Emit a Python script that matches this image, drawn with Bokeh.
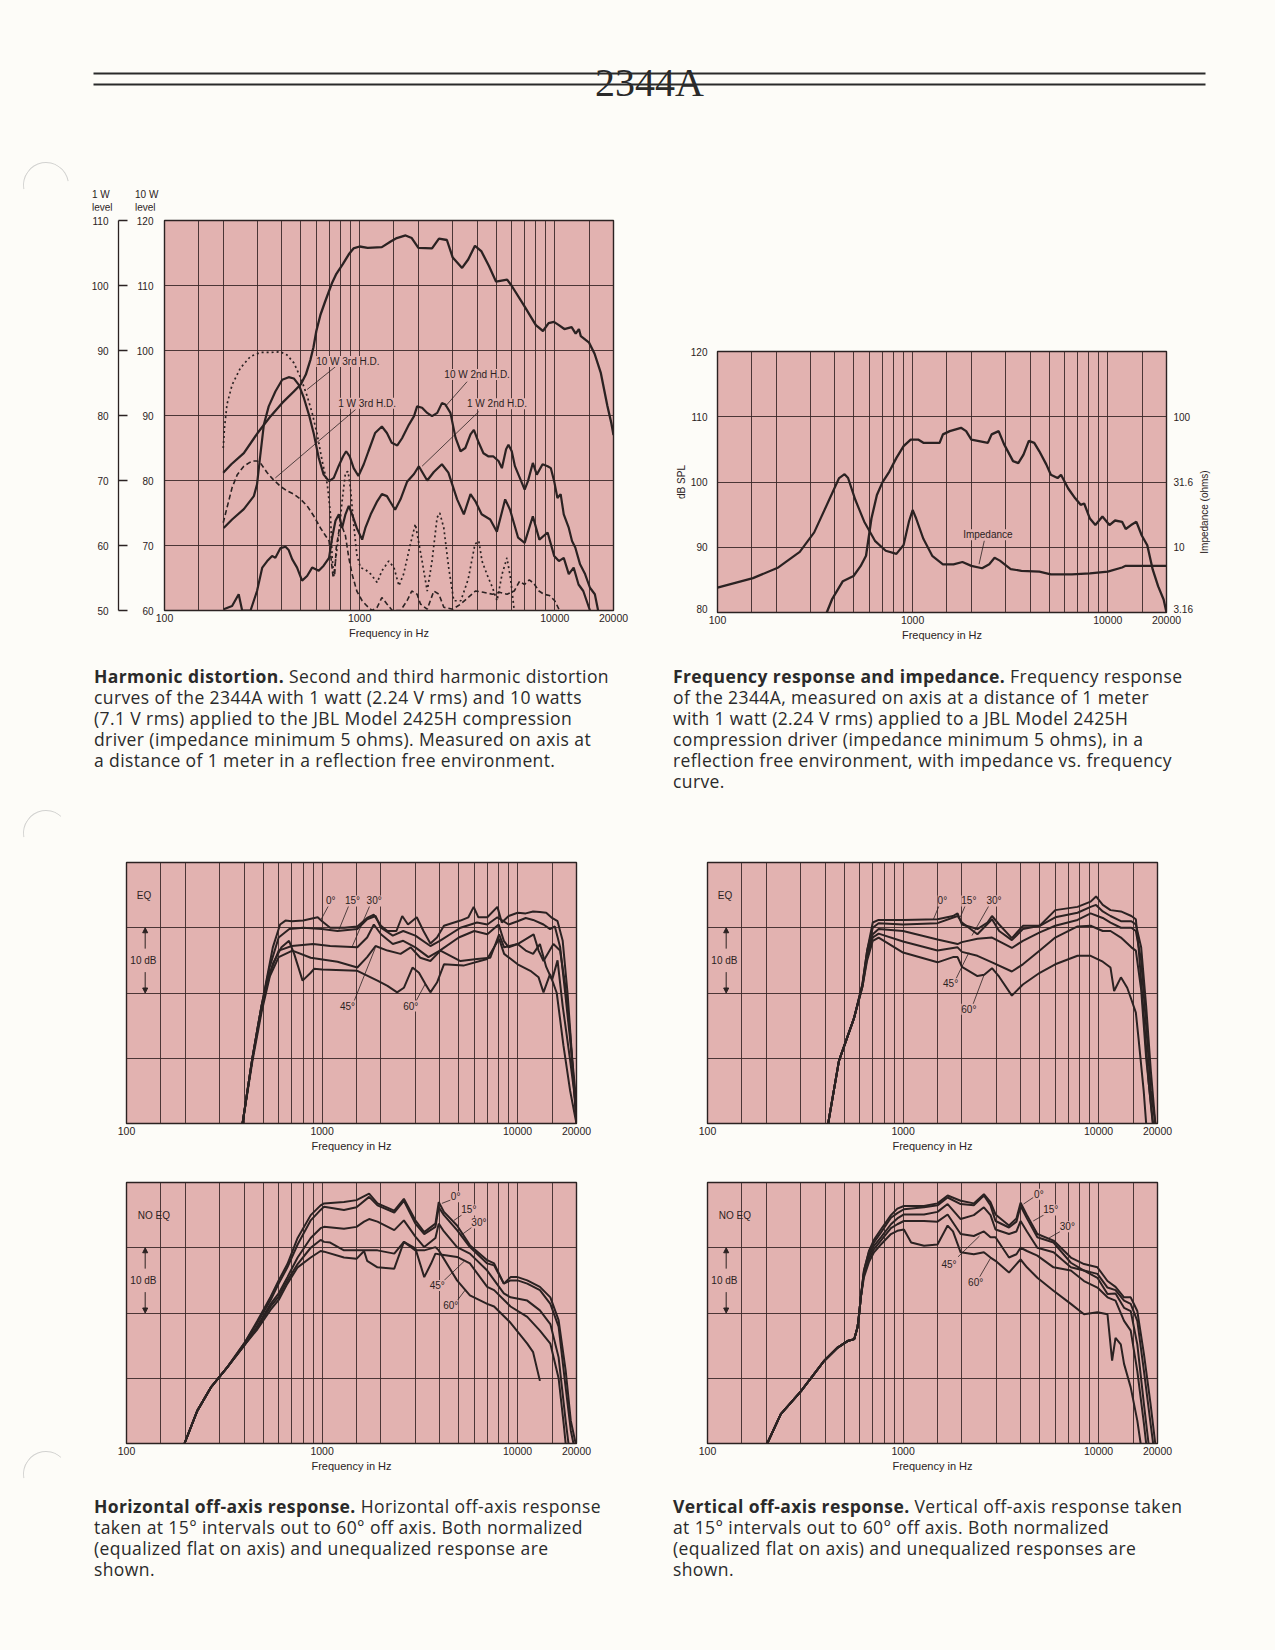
import math
from bokeh.plotting import figure
from bokeh.models import (Range1d, FixedTicker, LinearAxis, Label, Arrow, NormalHead,
                          Div, Spacer, LogScale)
from bokeh.layouts import column, row
from bokeh.embed import file_html
from bokeh.resources import INLINE
from bokeh.core.properties import value

PAGE = "#fdfcf8"
PINK = "#e2b2b0"
INK = "#2b2222"
GRIDC = "#3a2828"
FONT = "Liberation Sans"
HOLE = "#d2d2d0"

# ---------------- axis values ----------------
X_LABEL_TICKS = [100, 1000, 10000, 20000]
X_GRID_TICKS = [150, 200, 300, 400, 500, 600, 700, 800, 900, 1000, 1500, 2000,
                3000, 4000, 5000, 6000, 7000, 8000, 9000, 10000, 15000]
HD_1W_TICKS = [50, 60, 70, 80, 90, 100, 110]
HD_10W_LABELS = ["60", "70", "80", "90", "100", "110", "120"]
SPL_TICK_POS = [80.6, 90, 100, 110, 120]
SPL_LABELS = ["80", "90", "100", "110", "120"]
IMP_TICK_POS = [80.6, 90, 100, 110]
IMP_LABELS = ["3.16", "10", "31.6", "100"]

# ---------------- Harmonic distortion (1 W level dB) ----------------
HD_FUND = [(200, 71.2), (220, 72.5), (255, 74.2), (300, 77.3), (350, 79.9), (400, 81.9),
           (460, 83.7), (500, 84.8), (530, 86.3), (560, 88.6), (580, 90.5), (600, 93.0),
           (630, 95.5), (665, 97.5), (720, 100.3), (760, 101.8), (820, 103.3), (880, 104.8),
           (930, 105.7), (1000, 106.0), (1100, 105.8), (1300, 105.9), (1450, 106.8),
           (1550, 107.3), (1720, 107.7), (1850, 107.3), (2000, 105.8), (2350, 105.7),
           (2550, 107.2), (2800, 107.0), (3000, 104.3), (3350, 102.7), (3600, 104.0),
           (3900, 106.1), (4200, 105.3), (4600, 103.0), (5000, 100.6), (5700, 100.9),
           (6000, 100.0), (7000, 96.8), (8000, 93.9), (8700, 93.0), (9300, 94.2),
           (9900, 94.4), (10500, 93.9), (11200, 93.3), (12200, 93.6), (12800, 92.6),
           (13300, 93.3), (13600, 92.2), (15000, 91.2), (16000, 89.5), (17200, 86.6),
           (18600, 81.5), (19500, 78.8), (20000, 77.0)]
HD2_10W = [(201, 62.7), (222, 64.0), (255, 65.6), (287, 67.6), (298, 69.4), (310, 74.0),
           (323, 78.6), (342, 81.4), (370, 83.7), (401, 85.5), (433, 85.9), (460, 85.7),
           (488, 84.7), (518, 82.7), (550, 80.1), (583, 77.1), (617, 73.5), (654, 70.9),
           (697, 69.9), (737, 70.4), (780, 72.2), (822, 73.7), (853, 74.5), (889, 73.7),
           (932, 71.9), (986, 70.7), (1050, 72.5), (1110, 74.5), (1200, 77.3), (1300, 78.3),
           (1380, 77.3), (1460, 75.8), (1560, 75.4), (1650, 76.5), (1790, 78.6), (1900, 79.9),
           (1970, 81.4), (2090, 81.2), (2220, 80.4), (2350, 79.9), (2500, 80.4), (2640, 81.9),
           (2750, 81.7), (2920, 80.4), (3100, 76.6), (3290, 74.5), (3480, 75.0), (3700, 77.1),
           (3850, 77.8), (4080, 75.8), (4310, 74.2), (4580, 73.7), (4850, 73.7), (5150, 73.0),
           (5360, 71.9), (5630, 74.8), (5790, 75.5), (6020, 74.5), (6250, 72.2), (6620, 70.4),
           (7010, 68.6), (7290, 69.9), (7720, 72.7), (8090, 70.9), (8660, 72.5), (9190, 72.2),
           (9550, 71.9), (9930, 69.9), (10320, 67.3), (10720, 67.9), (11120, 64.8),
           (11800, 62.7), (12260, 60.7), (12740, 59.7), (13480, 57.1), (14300, 55.6),
           (15150, 53.5), (16050, 52.5), (16680, 50.0)]
HD2_1W = [(201, 50.2), (222, 50.7), (240, 52.5), (250, 50.0), (276, 50.0), (298, 53.0),
          (317, 56.6), (336, 57.6), (356, 58.4), (370, 58.1), (393, 59.6), (417, 59.8),
          (433, 59.3), (451, 57.9), (478, 56.6), (507, 54.6), (538, 55.3), (571, 56.6),
          (617, 56.1), (654, 56.9), (697, 58.1), (723, 61.2), (752, 63.8), (783, 64.8),
          (813, 62.7), (846, 64.8), (880, 66.1), (915, 64.8), (967, 62.7), (1030, 60.9),
          (1070, 62.7), (1140, 64.8), (1230, 66.8), (1300, 67.9), (1380, 67.6), (1430, 66.8),
          (1520, 65.5), (1620, 67.1), (1750, 69.8), (1900, 71.0), (2010, 72.2), (2220, 70.0),
          (2400, 71.3), (2640, 72.5), (2850, 71.2), (3160, 67.1), (3420, 64.8), (3700, 67.9),
          (3920, 66.8), (4220, 64.8), (4670, 64.0), (5050, 62.1), (5570, 67.1), (5900, 65.5),
          (6490, 61.2), (7010, 60.4), (7720, 64.5), (8340, 60.9), (9190, 62.0), (9930, 58.4),
          (10500, 57.6), (11120, 58.1), (11800, 55.6), (12500, 56.6), (13240, 54.0),
          (14000, 53.0), (15150, 50.0)]
HD3_10W = [(200, 75.0), (203, 78.1), (209, 81.7), (222, 84.7), (245, 87.3), (276, 89.1),
           (310, 89.7), (349, 89.7), (393, 89.8), (425, 89.3), (460, 88.1), (499, 85.8),
           (538, 83.0), (571, 80.4), (606, 77.1), (643, 73.0), (683, 69.4), (709, 64.8),
           (723, 58.1), (737, 55.3), (752, 57.6), (783, 61.7), (813, 66.8), (846, 71.2),
           (872, 71.4), (897, 68.9), (932, 63.3), (967, 58.6), (1010, 56.6), (1070, 56.3),
           (1140, 55.6), (1230, 54.3), (1300, 56.1), (1410, 57.6), (1500, 56.6), (1590, 53.8),
           (1680, 55.6), (1820, 60.2), (1930, 63.3), (2090, 57.6), (2220, 53.0), (2350, 57.6),
           (2495, 64.3), (2575, 65.0), (2700, 62.7), (2860, 56.6), (3037, 51.5), (3300, 51.5),
           (3600, 54.8), (3900, 60.2), (4080, 60.7), (4240, 57.6), (4500, 55.5), (4800, 53.5),
           (5060, 51.5), (5370, 55.6), (5690, 58.1), (5930, 55.0), (6200, 50.0)]
HD3_1W = [(200, 63.5), (209, 65.8), (222, 68.9), (236, 70.9), (255, 72.2), (281, 73.0),
          (298, 73.0), (310, 72.7), (336, 71.2), (362, 70.1), (393, 69.1), (425, 68.4),
          (460, 67.9), (499, 67.1), (538, 66.1), (583, 64.5), (630, 62.7), (669, 61.5),
          (697, 60.7), (716, 57.6), (730, 55.3), (744, 55.3), (759, 59.7), (786, 62.5),
          (818, 62.7), (846, 61.5), (880, 58.1), (915, 55.6), (967, 53.0), (1030, 51.5),
          (1090, 50.7), (1160, 50.0), (1230, 50.5), (1300, 52.0), (1380, 51.0), (1470, 50.0),
          (1620, 50.0), (1750, 51.5), (1850, 53.0), (1970, 52.5), (2050, 51.0), (2220, 50.2),
          (2400, 53.0), (2550, 52.5), (2700, 50.5), (3000, 50.2), (3300, 51.0), (3600, 52.0),
          (3920, 53.0), (4300, 52.8), (4800, 52.5), (5200, 52.8), (5700, 52.5), (6200, 53.0),
          (6600, 54.5), (7000, 54.0), (7400, 54.7), (7800, 54.2), (8300, 53.0), (8800, 52.5),
          (9400, 52.3), (10000, 51.5), (10500, 50.2)]

# ---------------- Frequency response (dB SPL) and impedance (ohms) ----------------
FR_SPL = [(363, 80.0), (386, 82.0), (439, 84.8), (498, 85.6), (541, 87.1), (577, 88.7),
          (615, 94.4), (656, 98.0), (699, 99.9), (760, 101.6), (826, 103.7), (899, 105.5),
          (977, 106.5), (1067, 106.5), (1135, 106.0), (1375, 106.0), (1430, 107.3),
          (1550, 107.8), (1770, 108.3), (1880, 107.8), (2000, 106.5), (2430, 106.0),
          (2540, 107.3), (2760, 107.8), (2940, 105.8), (3270, 103.2), (3480, 102.9),
          (3700, 104.2), (3940, 106.3), (4200, 106.0), (4460, 104.7), (4840, 102.7),
          (5110, 101.1), (5530, 100.6), (5760, 101.1), (6270, 99.0), (6810, 97.5),
          (7260, 96.5), (7570, 96.7), (8100, 94.4), (8640, 93.4), (9390, 94.7), (10200, 93.4),
          (10900, 94.1), (11840, 93.9), (12360, 92.8), (13160, 93.4), (14020, 93.9),
          (14940, 91.8), (15940, 90.3), (16990, 86.6), (18130, 84.0), (19330, 82.0),
          (20000, 80.0)]
FR_IMP = [(100, 4.9), (152, 5.8), (205, 7.0), (264, 9.2), (313, 13.0), (370, 22.4),
          (420, 33.9), (448, 36.3), (467, 33.9), (509, 23.0), (565, 15.7), (641, 11.2),
          (728, 9.4), (826, 8.9), (899, 10.4), (957, 15.7), (1000, 19.3), (1043, 16.6),
          (1135, 11.6), (1260, 8.6), (1430, 7.4), (1620, 7.4), (1800, 7.7), (2000, 7.2),
          (2270, 6.9), (2470, 7.4), (2630, 8.3), (2800, 7.9), (3180, 6.8), (3610, 6.6),
          (4460, 6.5), (5110, 6.2), (6550, 6.2), (8100, 6.3), (10000, 6.5), (11840, 7.0),
          (12360, 7.2), (20000, 7.2)]

# ---------------- Off-axis responses (relative dB, 10 dB per division) ----------------
H_EQ = {
    "0": [(392, 0), (430, 8), (470, 15), (520, 22), (560, 27), (610, 30.5), (650, 31.1),
          (700, 31.0), (800, 31.1), (950, 31.6), (1000, 31.0), (1100, 30.0), (1300, 30.0),
          (1515, 30.2), (1700, 31.5), (1840, 32.0), (2000, 30.3), (2160, 29.5), (2400, 29.5),
          (2570, 31.8), (2750, 30.5), (3050, 31.6), (3300, 29.5), (3580, 27.6), (3870, 28.5),
          (4200, 30.3), (5100, 31.1), (5600, 31.6), (5960, 33.2), (6300, 31.6), (7000, 31.6),
          (7880, 33.2), (8300, 30.8), (9000, 31.8), (10000, 32.3), (11000, 32.2), (12000, 32.5),
          (13000, 32.4), (14000, 32.3), (15000, 31.5), (16000, 31), (17000, 28), (18000, 20),
          (19000, 10), (20000, 0)],
    "15": [(392, 0), (440, 10), (490, 18), (540, 24), (600, 28.5), (680, 29.8), (800, 30.0),
           (1000, 29.8), (1200, 29.5), (1515, 29.8), (1700, 31.3), (1877, 31.8), (2000, 30),
           (2300, 28.8), (2600, 29.5), (3000, 28.8), (3580, 27.2), (4000, 28), (5100, 30),
           (6200, 30.8), (7000, 30.5), (7880, 31.6), (9000, 30.5), (10000, 31), (11000, 31.5),
           (12000, 31.2), (13560, 30.5), (14650, 29.8), (15500, 30.2), (16500, 27),
           (17500, 20), (19000, 10), (20000, 3)],
    "30": [(392, 0), (440, 10), (490, 17.5), (540, 23), (600, 26.5), (700, 27.2), (900, 27.5),
           (1100, 27.2), (1515, 27.0), (1700, 28.5), (1840, 30.5), (2000, 29), (2300, 27.5),
           (2600, 28), (3000, 27), (3500, 25.5), (4000, 26.5), (5000, 28.5), (6000, 29.5),
           (7000, 29), (8000, 30.5), (8500, 28), (9000, 27), (10000, 27.5), (11000, 26.5),
           (12000, 26), (13000, 27.5), (14000, 24), (15000, 22), (16000, 25), (17000, 18),
           (18500, 10), (20000, 2)],
    "45": [(392, 0), (440, 9.5), (490, 17), (540, 22.5), (600, 25.5), (705, 26.5),
           (875, 25.4), (1200, 24.8), (1515, 23.9), (1700, 25.5), (1877, 27.2), (2160, 26.5),
           (2520, 26.0), (2840, 27.0), (3180, 25.4), (3580, 24.9), (4030, 26.5), (5100, 24.9),
           (6200, 25.2), (7250, 25.4), (8040, 29.0), (8530, 27.0), (10000, 27.5),
           (12070, 29.0), (12800, 26.5), (13560, 24.9), (15240, 27.5), (16480, 26.5),
           (17480, 21.4), (18560, 13.7), (20000, 0)],
    "60": [(392, 0), (440, 10), (490, 18), (560, 24.5), (620, 27), (678, 28.0), (720, 26),
           (795, 21.9), (875, 23.1), (910, 23.7), (1000, 23.6), (1515, 23.4), (1920, 21.9),
           (2160, 21.1), (2420, 20.1), (2620, 20.8), (2900, 23.9), (3130, 23.1), (3370, 21.4),
           (3580, 20.1), (3870, 21.6), (4200, 24.4), (5280, 24.2), (6990, 25.2), (8040, 28.3),
           (8530, 26.0), (10000, 24.4), (11620, 23.4), (12800, 22.4), (13560, 20.1),
           (14650, 22.9), (15850, 20), (17140, 12), (18560, 5), (19690, 1), (20000, 0)],
}
V_EQ = {
    "0": [(414, 0), (470, 9.6), (562, 16.2), (620, 21.4), (655, 26.5), (700, 30.8),
          (750, 31.2), (1000, 31.2), (1500, 31.3), (1800, 31.8), (1900, 32.2), (2000, 30.5),
          (2400, 29.8), (2700, 30.8), (2850, 31.8), (3100, 30.5), (3600, 28.4), (4100, 30.3),
          (5000, 30.3), (6000, 32.7), (7800, 33.2), (9100, 34.0), (9700, 34.8), (10500, 33.5),
          (11500, 32.7), (13000, 32.5), (14700, 31.8), (15500, 31.3), (16000, 27),
          (17000, 16.7), (18000, 6.5), (18900, 0)],
    "15": [(414, 0), (470, 9.6), (562, 16.2), (620, 21.4), (655, 26.5), (700, 30.0),
           (750, 30.7), (1000, 30.5), (1500, 30.7), (1900, 31.8), (2000, 30.8), (2400, 29.0),
           (2850, 31.3), (3100, 29.5), (3600, 28.1), (4100, 29.8), (5000, 30.3), (6000, 31.6),
           (7800, 32.3), (9100, 33.2), (9700, 33.5), (10500, 32.5), (11500, 31.8), (13000, 31.0),
           (14700, 31.0), (15500, 30.5), (16500, 27), (17500, 18), (18500, 8), (19500, 0)],
    "30": [(414, 0), (470, 9.6), (562, 16.2), (620, 21.2), (655, 26.0), (700, 29.0),
           (750, 29.8), (1000, 29.5), (1500, 28.2), (1900, 27.5), (2000, 27.8), (2400, 28.3),
           (2850, 28.5), (3600, 26.9), (4100, 28.0), (5000, 29.3), (6000, 30.3), (7800, 31.2),
           (9100, 32.2), (10500, 31.5), (11500, 30.8), (13000, 30.0), (14700, 30.0),
           (15500, 29.5), (16500, 25), (17500, 15), (18500, 5), (19500, 0)],
    "45": [(414, 0), (470, 9.6), (562, 16.2), (620, 21.0), (655, 25.5), (700, 28.5),
           (750, 29.1), (1000, 27.9), (1500, 26.5), (1900, 27.0), (2000, 26.3), (2400, 25.7),
           (2850, 24.7), (3600, 23.3), (4100, 24.4), (5000, 26.5), (6000, 28.5), (7800, 30.2),
           (9100, 30.3), (10500, 29.5), (11500, 29.5), (13000, 28.5), (14700, 27.0),
           (15500, 26.5), (16500, 20.5), (17500, 10), (18500, 3), (19000, 0)],
    "60": [(414, 0), (470, 9.6), (562, 16.2), (620, 21.0), (655, 25.0), (700, 28.0),
           (750, 28.5), (1000, 26.2), (1500, 24.7), (1800, 25.5), (1900, 25.5), (2000, 24.0),
           (2400, 22.6), (2600, 22.8), (2850, 23.8), (3100, 22.5), (3600, 19.6), (4100, 21.3),
           (5000, 23.1), (6000, 24.4), (7800, 25.7), (9100, 25.7), (10500, 24.8), (11500, 23.9),
           (12000, 20.3), (13000, 22.4), (14000, 20.8), (14700, 19.0), (15500, 17.0),
           (16000, 13.0), (17000, 5.0), (17500, 0)],
}
H_NOEQ = {
    "0": [(198, 0), (230, 5.0), (270, 8.6), (328, 11.7), (399, 15.3), (467, 18.8),
          (546, 22.5), (600, 25.0), (665, 27.5), (750, 31.5), (875, 35.0), (983, 36.5),
          (1024, 36.8), (1294, 37.0), (1500, 37.3), (1740, 38.3), (1920, 36.8), (2340, 35.7),
          (2620, 37.5), (3000, 34.2), (3330, 32.4), (3800, 33.7), (3950, 37.0), (4200, 35.5),
          (4900, 33.4), (5700, 30.4), (6990, 28.1), (7580, 27.6), (8500, 24.5), (9200, 25.5),
          (10000, 25.5), (11200, 25.0), (13000, 24.0), (14700, 22.4), (16200, 18.9),
          (17600, 11.2), (18700, 3.5), (19800, 0)],
    "15": [(198, 0), (230, 5.0), (270, 8.6), (328, 11.7), (399, 15.3), (467, 18.5),
           (546, 22.0), (600, 24.5), (665, 27.0), (750, 30.5), (875, 34.2), (983, 35.8),
           (1024, 36.3), (1294, 35.8), (1500, 36.2), (1740, 37.8), (1920, 36.5), (2340, 35.4),
           (2620, 37.2), (3000, 33.7), (3330, 32.1), (3800, 33.2), (3950, 36.2), (4200, 35.0),
           (4900, 32.7), (5700, 30.1), (6990, 27.6), (7580, 27.3), (8500, 24.5), (9200, 25.0),
           (10000, 25.0), (11200, 24.5), (13000, 23.5), (14700, 21.4), (16200, 17.9),
           (17600, 8.6), (18700, 2.0), (19300, 0)],
    "30": [(198, 0), (230, 5.0), (270, 8.6), (328, 11.7), (399, 15.0), (467, 18.0),
           (546, 21.4), (600, 23.0), (665, 25.5), (750, 28.5), (875, 31.5), (983, 33.0),
           (1024, 33.2), (1294, 32.9), (1500, 33.2), (1640, 34.0), (1740, 34.4), (1920, 34.0),
           (2340, 32.7), (2620, 34.2), (3000, 31.7), (3330, 30.1), (3800, 31.5), (3950, 33.7),
           (4200, 32.5), (4900, 30.1), (5700, 29.1), (6990, 26.5), (8500, 23.0), (9200, 22.4),
           (11200, 21.9), (13000, 20.4), (14700, 18.3), (16200, 13.2), (17600, 3.5),
           (18200, 0)],
    "45": [(198, 0), (230, 5.0), (270, 8.6), (328, 11.7), (399, 15.0), (467, 17.8),
           (546, 21.0), (600, 22.5), (665, 25.0), (750, 27.5), (875, 30.0), (983, 31.2),
           (1024, 30.9), (1100, 30.8), (1294, 29.6), (1640, 29.6), (1920, 29.6), (2340, 29.1),
           (2620, 30.9), (3000, 29.9), (3330, 25.5), (3600, 27.5), (3800, 29.1), (3950, 29.0),
           (4900, 28.6), (5700, 27.6), (6990, 24.0), (7580, 23.5), (9200, 21.0), (11200, 19.4),
           (13000, 17.3), (14700, 15.3), (16200, 10.0), (17200, 3.0), (17600, 0)],
    "60": [(198, 0), (230, 5.0), (270, 8.6), (328, 11.7), (399, 15.0), (467, 17.5),
           (546, 20.5), (600, 22.0), (665, 24.5), (750, 27.0), (875, 28.5), (983, 29.5),
           (1024, 29.4), (1294, 28.5), (1500, 28.3), (1640, 29.5), (1700, 28.0), (1920, 27.0),
           (2340, 26.8), (2620, 30.9), (3000, 29.6), (3330, 29.6), (3800, 30.1), (3950, 29.6),
           (4900, 25.0), (5700, 22.7), (6990, 21.4), (7580, 21.0), (9200, 18.5), (11200, 15.3),
           (12000, 14.0), (13000, 9.6)],
}
V_NOEQ = {
    "0": [(202, 0), (237, 4.5), (300, 8.0), (393, 12.6), (463, 14.7), (520, 15.7),
          (563, 16.0), (585, 17.8), (596, 19.8), (608, 22.4), (631, 26.5), (669, 29.5),
          (710, 31.2), (770, 32.8), (867, 35.0), (935, 36.0), (1010, 36.4), (1280, 36.4),
          (1500, 36.8), (1690, 38.0), (1970, 37.2), (2300, 36.8), (2590, 38.2), (2800, 37.0),
          (2970, 35.1), (3480, 33.4), (3800, 34.5), (3990, 36.9), (4300, 35.0), (4860, 32.1),
          (5880, 31.1), (7210, 28.5), (8420, 27.5), (9860, 27.0), (11100, 24.9), (12200, 24.0),
          (13490, 22.4), (14590, 22.4), (15770, 20.3), (17050, 13.7), (18440, 6.0),
          (19480, 0)],
    "15": [(202, 0), (237, 4.5), (300, 8.0), (393, 12.6), (463, 14.7), (520, 15.7),
           (563, 16.0), (585, 17.8), (596, 19.8), (608, 22.4), (631, 26.5), (669, 29.3),
           (710, 30.8), (770, 32.3), (867, 34.6), (935, 35.3), (1010, 35.9), (1280, 36.2),
           (1500, 36.5), (1690, 37.7), (1970, 36.7), (2300, 36.5), (2590, 38.0), (2800, 36.5),
           (2970, 34.1), (3480, 33.1), (3800, 34.0), (3990, 36.4), (4300, 34.5), (4860, 31.6),
           (5880, 30.8), (7210, 27.7), (8420, 26.5), (9860, 26.0), (11100, 23.9), (12200, 23.5),
           (13490, 21.9), (14590, 21.4), (15770, 18.8), (17050, 11.1), (18440, 3.0),
           (19000, 0)],
    "30": [(202, 0), (237, 4.5), (300, 8.0), (393, 12.6), (463, 14.7), (520, 15.7),
           (563, 16.0), (585, 17.8), (596, 19.8), (608, 22.4), (631, 26.2), (669, 28.8),
           (710, 30.3), (770, 31.6), (867, 33.6), (935, 34.5), (1010, 35.1), (1280, 35.1),
           (1500, 35.5), (1690, 36.7), (1970, 34.4), (2300, 35.0), (2590, 36.2), (2800, 35.0),
           (2970, 32.8), (3480, 32.1), (3800, 32.5), (3990, 34.1), (4300, 32.5), (4860, 30.0),
           (5880, 29.3), (7210, 27.0), (8420, 26.5), (9860, 25.4), (11100, 22.9), (12200, 23.0),
           (13490, 20.8), (14590, 20.3), (15770, 15.2), (17050, 6.0), (18000, 0)],
    "45": [(202, 0), (237, 4.5), (300, 8.0), (393, 12.6), (463, 14.7), (520, 15.7),
           (563, 16.0), (585, 17.8), (596, 19.8), (608, 22.4), (631, 26.0), (669, 28.3),
           (710, 29.8), (770, 31.1), (867, 33.0), (935, 33.6), (1010, 34.1), (1280, 34.1),
           (1500, 34.0), (1690, 35.1), (1970, 32.1), (2300, 31.8), (2590, 32.5), (2800, 31.6),
           (2970, 31.6), (3480, 28.5), (3800, 29.0), (3990, 30.0), (4300, 29.5), (4860, 28.8),
           (5880, 27.0), (7210, 26.5), (8420, 24.9), (9860, 23.9), (11100, 22.4), (12200, 21.9),
           (13490, 18.8), (14590, 17.3), (15770, 11.1), (17050, 3.0), (17500, 0)],
    "60": [(202, 0), (237, 4.5), (300, 8.0), (393, 12.6), (463, 14.7), (520, 15.7),
           (563, 16.0), (585, 17.8), (596, 19.8), (608, 22.4), (631, 25.5), (669, 27.8),
           (710, 29.3), (770, 30.5), (867, 32.1), (935, 32.6), (1010, 32.8), (1100, 30.8),
           (1280, 30.3), (1500, 30.5), (1690, 33.4), (1800, 32.5), (1970, 29.3), (2300, 29.0),
           (2590, 29.3), (2800, 28.5), (2970, 28.0), (3480, 26.2), (3800, 27.5), (3990, 28.2),
           (4300, 27.0), (4860, 25.4), (5880, 23.4), (7210, 21.4), (8420, 19.8), (9860, 20.1),
           (11100, 19.8), (11720, 12.7), (12200, 16.2), (12980, 15.2), (13490, 12.2),
           (14590, 8.6), (15770, 3.5), (16400, 0)],
}

# annotation text anchors: (text, freq, dB)
HD_NOTES = [("10 W 3rd H.D.", 870, 88.3), ("1 W 3rd H.D.", 1092, 81.9),
            ("10 W 2nd H.D.", 4000, 86.3), ("1 W 2nd H.D.", 5060, 81.8)]
HD_LEADERS = [(752, 87.5, 538, 84.0), (952, 80.9, 370, 70.4),
              (3553, 85.2, 2750, 81.4), (4080, 80.6, 2090, 72.2)]

OFF_NOTES = {
    "HEQ": [("0°", 1107, 34.1), ("15°", 1430, 34.1), ("30°", 1846, 34.1),
            ("45°", 1350, 18.0), ("60°", 2840, 18.0)],
    "VEQ": [("0°", 1589, 34.1), ("15°", 2170, 34.1), ("30°", 2917, 34.1),
            ("45°", 1750, 21.4), ("60°", 2170, 17.5)],
    "HNO": [("0°", 4820, 37.8), ("15°", 5630, 35.8), ("30°", 6340, 33.8),
            ("45°", 3880, 24.2), ("60°", 4550, 21.2)],
    "VNO": [("0°", 4950, 38.2), ("15°", 5690, 35.8), ("30°", 6920, 33.2),
            ("45°", 1718, 27.4), ("60°", 2350, 24.7)],
}
OFF_LEADERS = {
    "HEQ": [(1080, 33.4, 990, 31.3), (1370, 33.4, 1220, 29.7), (1755, 33.4, 1430, 27.2),
            (1460, 18.8, 1877, 27.0), (3030, 18.8, 3370, 21.4)],
    "VEQ": [(1530, 33.4, 1430, 31.3), (2080, 33.4, 1960, 31.6), (2750, 33.4, 2250, 28.8),
            (1860, 22.1, 2170, 26.2), (2280, 18.3, 2590, 22.7)],
    "HNO": [(4530, 37.3, 4100, 36.8), (5280, 35.2, 4730, 34.2), (5940, 33.3, 5120, 31.9),
            (4210, 25.0, 5320, 27.9), (4910, 21.9, 5420, 23.6)],
    "VNO": [(4630, 37.7, 4130, 36.7), (5300, 35.1, 4630, 34.1), (6370, 32.5, 5580, 31.5),
            (1910, 28.6, 2460, 31.8), (2460, 25.5, 2800, 28.4)],
}


def unzip(pts):
    return [a for a, _ in pts], [b for _, b in pts]


def style_axis_text(ax, size="10.5px"):
    ax.major_label_text_font = FONT
    ax.major_label_text_font_size = size
    ax.major_label_text_color = INK
    ax.axis_label_text_font = FONT
    ax.axis_label_text_font_size = "11px"
    ax.axis_label_text_font_style = "normal"
    ax.axis_label_text_color = INK
    ax.minor_tick_line_color = None


def hide_ticks(ax):
    ax.axis_line_color = None
    ax.major_tick_line_color = None
    ax.major_tick_out = 0
    ax.major_tick_in = 0
    ax.minor_tick_out = 0
    ax.minor_tick_in = 0


def freq_fig(width, height, left, right, top, bottom, y0, y1, ygrid):
    p = figure(width=width, height=height, x_axis_type="log",
               x_range=Range1d(100, 20000), y_range=Range1d(y0, y1),
               toolbar_location=None, output_backend="svg",
               min_border_left=left, min_border_right=right,
               min_border_top=top, min_border_bottom=bottom,
               background_fill_color=PINK, border_fill_color=PAGE,
               outline_line_color=INK, outline_line_width=1.4)
    ax = p.xaxis[0]
    ax.ticker = FixedTicker(ticks=X_LABEL_TICKS)
    ax.major_label_overrides = {t: str(t) for t in X_LABEL_TICKS}
    hide_ticks(ax)
    ax.major_label_standoff = 3
    ax.axis_label = "Frequency in Hz"
    ax.axis_label_standoff = 2
    style_axis_text(ax)
    p.xgrid.ticker = FixedTicker(ticks=X_GRID_TICKS)
    p.ygrid.ticker = FixedTicker(ticks=ygrid)
    p.grid.grid_line_color = GRIDC
    p.grid.grid_line_width = 0.9
    return p


def add_notes(p, notes, leaders, size="10px"):
    for txt, fx, dy in notes:
        p.add_layout(Label(x=fx, y=dy, text=txt, text_align="center", text_baseline="middle",
                           text_font=FONT, text_font_size=size, text_color=INK,
                           background_fill_color=PINK))
    p.segment(x0=[l[0] for l in leaders], y0=[l[1] for l in leaders],
              x1=[l[2] for l in leaders], y1=[l[3] for l in leaders],
              line_color=INK, line_width=0.8)


def hole_html(top):
    return (f'<div style="position:absolute;left:23px;top:{top}px;width:46px;height:46px;'
            f'border-radius:50%;border:1.5px solid transparent;border-top-color:{HOLE};'
            f'border-left-color:{HOLE};transform:rotate(35deg);"></div>')


# ---------------- header ----------------
head = figure(width=1267, height=108, x_range=Range1d(0, 1267), y_range=Range1d(108, 0),
              x_axis_type=None, y_axis_type=None, toolbar_location=None, output_backend="svg",
              min_border=0, outline_line_color=None, background_fill_color=PAGE,
              border_fill_color=PAGE)
head.grid.visible = False
head.segment(x0=[93, 93], y0=[73, 84], x1=[1205, 1205], y1=[73, 84], line_color="#2a2a2a",
             line_width=1.8)
head.text(x=[649], y=[82], text=["2344A"], text_align="center", text_baseline="middle",
          text_font=value("Liberation Serif"), text_font_size="40px", text_color="#2a2a2a")

# ---------------- chart 1: harmonic distortion ----------------
p1 = freq_fig(635, 445, 164, 22, 10, 45, 50, 110, [60, 70, 80, 90, 100])
inner = p1.yaxis[0]
inner.ticker = FixedTicker(ticks=HD_1W_TICKS)
inner.major_label_overrides = dict(zip(HD_1W_TICKS, HD_10W_LABELS))
hide_ticks(inner)
inner.major_label_standoff = 11
inner.axis_label = "\u00a0"
inner.axis_label_standoff = 3
style_axis_text(inner, "10px")
inner.axis_label_text_font_size = "8px"
outer = LinearAxis(ticker=FixedTicker(ticks=HD_1W_TICKS), axis_line_color=INK,
                   axis_line_width=1.3, major_tick_in=9, major_tick_out=0,
                   major_tick_line_color=INK, major_tick_line_width=1.3, major_label_standoff=10)
style_axis_text(outer, "10px")
p1.add_layout(outer, "left")

fx, fy = unzip(HD_FUND)
p1.line(fx, fy, line_color=INK, line_width=2.3)
x2, y2 = unzip(HD2_10W)
p1.line(x2, y2, line_color=INK, line_width=2.2)
x3, y3 = unzip(HD2_1W)
p1.line(x3, y3, line_color=INK, line_width=2.2)
x4, y4 = unzip(HD3_10W)
p1.line(x4, y4, line_color=INK, line_width=1.7, line_dash="2 3")
x5, y5 = unzip(HD3_1W)
p1.line(x5, y5, line_color=INK, line_width=1.6, line_dash="5 3")
add_notes(p1, HD_NOTES, HD_LEADERS)

LEVEL_HDR = (
    f'<div style="position:relative;width:635px;height:102px;font-family:{FONT};'
    f'font-size:10px;line-height:12.5px;color:{INK}">'
    + hole_html(54) +
    '<div style="position:absolute;left:92px;top:81px">1 W<br>level</div>'
    '<div style="position:absolute;left:135px;top:81px">10 W<br>level</div></div>')
hdr_div = Div(text=LEVEL_HDR, width=635, height=102, margin=0)

# ---------------- chart 2: frequency response & impedance ----------------
p2 = freq_fig(560, 316, 82, 28, 10, 45, 80, 120, [90, 100, 110])
la = p2.yaxis[0]
la.ticker = FixedTicker(ticks=SPL_TICK_POS)
la.major_label_overrides = dict(zip(SPL_TICK_POS, SPL_LABELS))
hide_ticks(la)
la.major_label_standoff = 10
la.axis_label = "dB SPL"
la.axis_label_standoff = 1
style_axis_text(la, "10px")
la.axis_label_text_font_size = "10px"
ra = LinearAxis(ticker=FixedTicker(ticks=IMP_TICK_POS),
                major_label_overrides=dict(zip(IMP_TICK_POS, IMP_LABELS)),
                major_label_standoff=7)
hide_ticks(ra)
style_axis_text(ra, "10px")
p2.add_layout(ra, "right")
p2.extra_y_ranges = {"imp": Range1d(3.162, 316.2)}
p2.extra_y_scales = {"imp": LogScale()}
sx, sy = unzip(FR_SPL)
p2.line(sx, sy, line_color=INK, line_width=2.3)
zx, zy = unzip(FR_IMP)
p2.line(zx, zy, line_color=INK, line_width=2.2, y_range_name="imp")
add_notes(p2, [("Impedance", 2430, 91.9)], [(2330, 91.0, 2190, 87.4)])

IMP_TITLE = (
    f'<div style="position:relative;width:72px;height:316px;font-family:{FONT};'
    f'font-size:10px;color:{INK}">'
    '<div style="position:absolute;left:9.6px;top:171px;white-space:nowrap;'
    'transform:translate(-50%,-50%) rotate(-90deg);">Impedance (ohms)</div></div>')
imp_div = Div(text=IMP_TITLE, width=72, height=316, margin=0)


# ---------------- off-axis charts ----------------
def off_axis(width, left, top, height, curves, tag, eq_text, eq_x):
    p = freq_fig(width, height, left, 24, top, 39, 0, 40, [10, 20, 30])
    p.yaxis.visible = False
    for key in ["0", "15", "30", "45", "60"]:
        cx, cy = unzip(curves[key])
        p.line(cx, cy, line_color=INK, line_width=2.0)
    add_notes(p, OFF_NOTES[tag], OFF_LEADERS[tag])
    p.add_layout(Label(x=eq_x, y=35, text=eq_text, text_align="center", text_baseline="middle",
                       text_font=FONT, text_font_size="10px", text_color=INK))
    p.add_layout(Label(x=122, y=25, text="10 dB", text_align="center", text_baseline="middle",
                       text_font=FONT, text_font_size="10px", text_color=INK))
    for ys, ye in [(26.8, 30), (23.2, 20)]:
        p.add_layout(Arrow(end=NormalHead(size=5, fill_color=INK, line_color=INK, line_width=1),
                           x_start=124.6, y_start=ys, x_end=124.6, y_end=ye,
                           line_color=INK, line_width=1))
    return p


def margin_div(height, hole_top):
    return Div(text=f'<div style="position:relative;width:60px;height:{height}px">'
                    f'{hole_html(hole_top)}</div>', width=60, height=height, margin=0)


p3 = off_axis(540, 66, 62, 362, H_EQ, "HEQ", "EQ", 123)
p4 = off_axis(581, 107, 62, 362, V_EQ, "VEQ", "EQ", 123)
p5 = off_axis(540, 66, 20, 320, H_NOEQ, "HNO", "NO EQ", 138)
p6 = off_axis(581, 107, 20, 320, V_NOEQ, "VNO", "NO EQ", 138)

# ---------------- captions ----------------
CAP_STYLE = ("font-family:'Open Sans';font-size:17.5px;letter-spacing:0.4px;line-height:21px;"
             "color:#2a2a2a;white-space:nowrap;")


def caption(html, height, pad):
    return Div(text=f'<div style="{CAP_STYLE}padding-top:{pad}px">{html}</div>',
               width=570, height=height, margin=0)


CAP1 = ("<b>Harmonic distortion.</b> Second and third harmonic distortion<br>"
        "curves of the 2344A with 1 watt (2.24 V rms) and 10 watts<br>"
        "(7.1 V rms) applied to the JBL Model 2425H compression<br>"
        "driver (impedance minimum 5 ohms). Measured on axis at<br>"
        "a distance of 1 meter in a reflection free environment.")
CAP2 = ("<b>Frequency response and impedance.</b> Frequency response<br>"
        "of the 2344A, measured on axis at a distance of 1 meter<br>"
        "with 1 watt (2.24 V rms) applied to a JBL Model 2425H<br>"
        "compression driver (impedance minimum 5 ohms), in a<br>"
        "reflection free environment, with impedance vs. frequency<br>"
        "curve.")
CAP3 = ("<b>Horizontal off-axis response.</b> Horizontal off-axis response<br>"
        "taken at 15° intervals out to 60° off axis. Both normalized<br>"
        "(equalized flat on axis) and unequalized response are<br>"
        "shown.")
CAP4 = ("<b>Vertical off-axis response.</b> Vertical off-axis response taken<br>"
        "at 15° intervals out to 60° off axis. Both normalized<br>"
        "(equalized flat on axis) and unequalized responses are<br>"
        "shown.")

cap_row1 = row(Spacer(width=94, height=143), caption(CAP1, 143, 9), Spacer(width=9, height=143),
               caption(CAP2, 143, 9))
cap_row2 = row(Spacer(width=94, height=120), caption(CAP3, 120, 14), Spacer(width=9, height=120),
               caption(CAP4, 120, 14))

left_top = column(hdr_div, p1)
right_top = column(Spacer(width=632, height=233), row(p2, imp_div))
page = column(head, row(left_top, right_top), cap_row1,
              row(margin_div(362, 10), p3, p4), row(margin_div(320, 289), p5, p6), cap_row2)

html = file_html(page, INLINE, "2344A")
html = html.replace("</head>", f"<style>html,body{{background:{PAGE};}}</style></head>", 1)
open("out.html", "w").write(html)
